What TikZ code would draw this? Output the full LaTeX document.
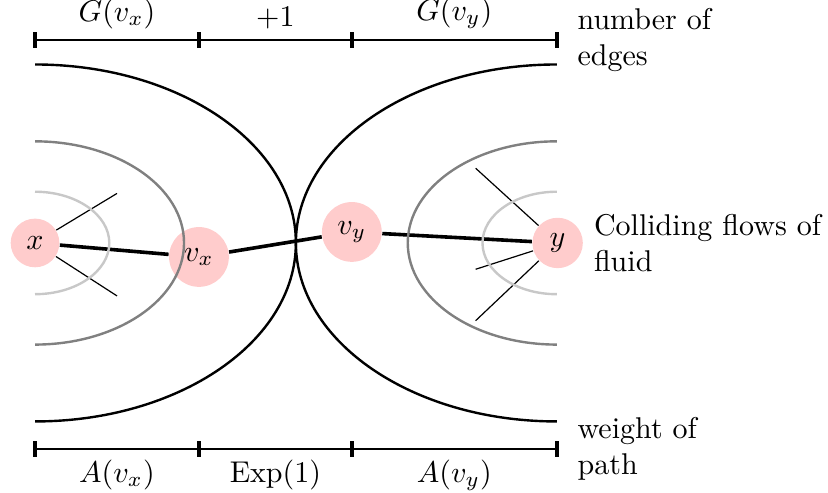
\documentclass[tikz,border=0pt]{standalone}
\usepackage{amssymb}
\usepackage{amsmath}
\usepackage{tikz}
\usetikzlibrary{positioning}
\definecolor{flowPink}{HTML}{FFCCCC}
\definecolor{flowGray}{HTML}{808080}
\definecolor{flowLight}{HTML}{C8C8C8}

\begin{document}
\begin{tikzpicture}[
    vert/.style={circle, fill=flowPink, inner sep=0pt},
    edge/.style={very thick},
    front/.style={thick},
    bar/.style={semithick},
    barend/.style={very thick}
  ]
    \useasboundingbox (-0.41,-2.927) rectangle (9.286,2.845);
    % the four vertices of the path
    \node[vert, minimum size=0.57cm] (x)  at (0,0)         {$x$};
    \node[vert, minimum size=0.70cm] (vx) at (1.92,-0.164) {$v_x$};
    \node[vert, minimum size=0.70cm] (vy) at (3.71,0.129)  {$v_y$};
    \node[vert, minimum size=0.59cm] (y)  at (6.12,0)      {$y$};
    \draw[edge] (x) -- (vx);
    \draw[edge] (vx) -- (vy);
    \draw[edge] (vy) -- (y);
    % other edges leaving the end points
    \coordinate (xa) at (0.96,0.58);
    \coordinate (xb) at (0.96,-0.62);
    \coordinate (ya) at (5.16,0.875);
    \coordinate (yb) at (5.16,-0.308);
    \coordinate (yc) at (5.16,-0.91);
    \draw (x) -- (xa);
    \draw (x) -- (xb);
    \draw (y) -- (ya);
    \draw (y) -- (yb);
    \draw (y) -- (yc);
    % growing fronts around x and y
    \draw[front, flowLight] (0,0.6)  arc[start angle=90, end angle=-90, x radius=0.87, y radius=0.6];
    \draw[front, flowGray]  (0,1.19) arc[start angle=90, end angle=-90, x radius=1.745, y radius=1.19];
    \draw[front]            (0,2.09) arc[start angle=90, end angle=-90, x radius=3.055, y radius=2.09];
    \draw[front, flowLight] (6.11,0.6)  arc[start angle=90, end angle=270, x radius=0.87, y radius=0.6];
    \draw[front, flowGray]  (6.11,1.19) arc[start angle=90, end angle=270, x radius=1.745, y radius=1.19];
    \draw[front]            (6.11,2.09) arc[start angle=90, end angle=270, x radius=3.055, y radius=2.09];
    \node[right=0pt of y, align=left] (fluid) {Colliding flows of\\fluid};
    % scale bars
    \coordinate (t0) at (0,2.38);
    \coordinate (t1) at (1.92,2.38);
    \coordinate (t2) at (3.71,2.38);
    \coordinate (t3) at (6.11,2.38);
    \coordinate (b0) at (0,-2.41);
    \coordinate (b1) at (1.92,-2.41);
    \coordinate (b2) at (3.71,-2.41);
    \coordinate (b3) at (6.11,-2.41);
    \draw[bar] (t0) -- node[above] (gx) {$G(v_x)$} (t1)
                    -- node[above] (one) {$+1$} (t2)
                    -- node[above] (gy) {$G(v_y)$} (t3);
    \draw[bar] (b0) -- node[below] (ax) {$A(v_x)$} (b1)
                    -- node[below] (ex) {$\mathrm{Exp}(1)$} (b2)
                    -- node[below] (ay) {$A(v_y)$} (b3);
    \foreach \c in {t0,t1,t2,t3,b0,b1,b2,b3}
        \draw[barend] ([yshift=-0.095cm]\c) -- ([yshift=0.095cm]\c);
    \node[right=0.12cm of t3, align=left] (edges) {number of\\edges};
    \node[right=0.12cm of b3, align=left] (weight) {weight of\\path};
\end{tikzpicture}
\end{document}
